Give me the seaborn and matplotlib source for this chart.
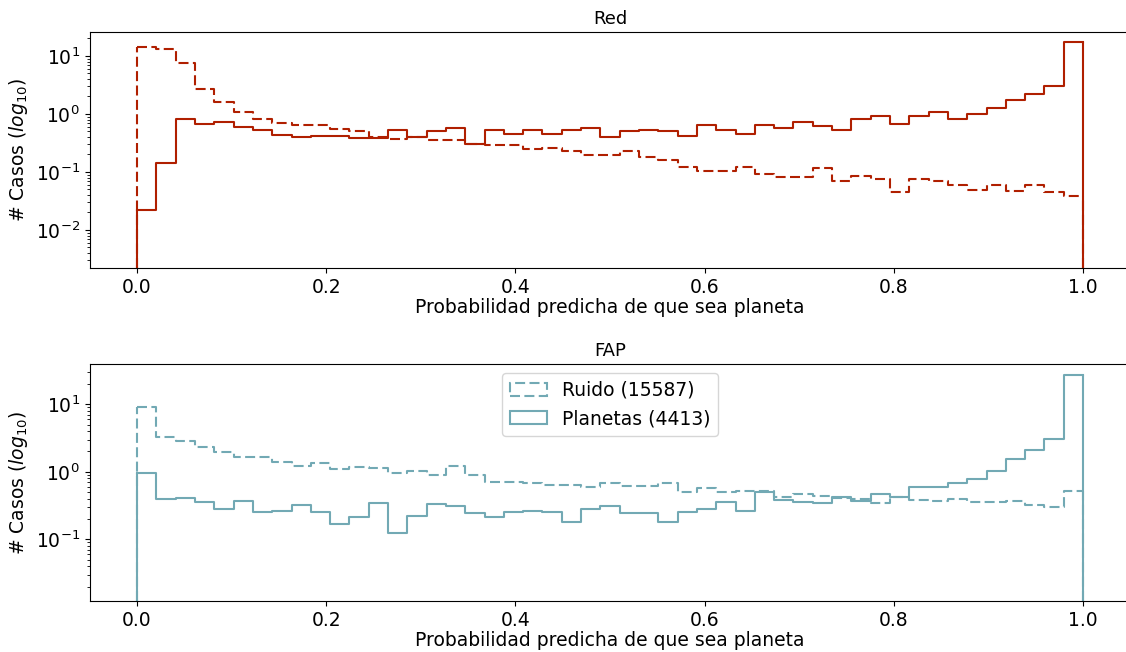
import numpy as np
import pandas as pd
import matplotlib
matplotlib.use("Agg")
import matplotlib.pyplot as plt
import seaborn as sns
from matplotlib.patches import Patch

# ---------------- data (density per bin, 49 bins on [0, 1]) ----------------
n_bins = 49
bin_range = (0.0, 1.0)

red_ruido = [14.2, 13.3, 7.6, 2.64, 1.6, 1.07, 0.83, 0.695, 0.65, 0.65,
             0.54, 0.50, 0.40, 0.373, 0.40, 0.36, 0.349, 0.306, 0.294, 0.294,
             0.251, 0.261, 0.229, 0.198, 0.198, 0.229, 0.18, 0.158, 0.124, 0.103,
             0.103, 0.121, 0.093, 0.081, 0.081, 0.116, 0.0686, 0.0847, 0.075, 0.0449,
             0.075, 0.0686, 0.0585, 0.0493, 0.0585, 0.0467, 0.0585, 0.0449, 0.0378]
red_planetas = [0.022, 0.142, 0.83, 0.66, 0.72, 0.59, 0.52, 0.44, 0.40, 0.415,
                0.415, 0.383, 0.383, 0.52, 0.40, 0.505, 0.578, 0.306, 0.526, 0.455,
                0.526, 0.455, 0.526, 0.578, 0.393, 0.506, 0.526, 0.50, 0.415, 0.633,
                0.526, 0.455, 0.633, 0.578, 0.722, 0.625, 0.52, 0.826, 0.906, 0.678,
                0.906, 1.06, 0.826, 1.0, 1.26, 1.75, 2.23, 3.01, 17.3]
fap_ruido = [9.0, 3.3, 2.85, 2.3, 1.98, 1.63, 1.63, 1.41, 1.23, 1.33,
             1.10, 1.19, 1.15, 0.967, 1.02, 0.893, 1.24, 0.893, 0.695, 0.695,
             0.672, 0.634, 0.634, 0.60, 0.672, 0.614, 0.614, 0.672, 0.495, 0.58,
             0.495, 0.518, 0.518, 0.426, 0.462, 0.436, 0.412, 0.39, 0.347, 0.426,
             0.381, 0.368, 0.39, 0.36, 0.36, 0.372, 0.321, 0.303, 0.518]
fap_planetas = [0.967, 0.39, 0.412, 0.36, 0.286, 0.372, 0.25, 0.262, 0.321, 0.256,
                0.168, 0.216, 0.347, 0.122, 0.223, 0.332, 0.312, 0.242, 0.216, 0.25,
                0.262, 0.25, 0.182, 0.286, 0.31, 0.242, 0.242, 0.182, 0.25, 0.277,
                0.36, 0.262, 0.506, 0.381, 0.36, 0.34, 0.417, 0.372, 0.467, 0.426,
                0.586, 0.586, 0.672, 0.77, 1.02, 1.54, 2.1, 3.05, 27.1]

titles = ["Red", "FAP"]
legend_labels = ["Ruido (15587)", "Planetas (4413)"]
xlabel = "Probabilidad predicha de que sea planeta"
ylabel = "# Casos ($log_{10}$)"

RED = "#B01F00"
TEAL = "#72A9B4"
DASH = (0, (4.8, 2.1))
LW = 1.5
FS = 13.5

fig = plt.figure(figsize=(11.26, 6.52), dpi=100)
ax_top = fig.add_axes([0.0797, 0.589, 0.9242, 0.362])
ax_bot = fig.add_axes([0.0797, 0.0782, 0.9242, 0.3635])

bin_edges = np.linspace(bin_range[0], bin_range[1], n_bins + 1)
centers = (bin_edges[:-1] + bin_edges[1:]) / 2


def draw(ax, vals, color, ls, ybottom):
    df = pd.DataFrame({"p": centers, "w": vals})
    sns.histplot(data=df, x="p", weights="w", bins=n_bins, binrange=bin_range,
                 stat="count", element="step", fill=False, color=color,
                 linestyle=ls, linewidth=LW, ax=ax)
    ax.vlines([bin_edges[0], bin_edges[-1]], ybottom, [vals[0], vals[-1]],
              colors=color, linestyles=[ls], linewidth=LW)


panels = [
    (ax_top, red_ruido, red_planetas, RED, (0.00221, 25.9)),
    (ax_bot, fap_ruido, fap_planetas, TEAL, (0.0122, 39.5)),
]

for (ax, ruido, plan, color, ylim), title in zip(panels, titles):
    ax.set_yscale("log")
    draw(ax, ruido, color, DASH, ylim[0])
    draw(ax, plan, color, "-", ylim[0])
    ax.set_xlim(-0.05, 1.05)
    ax.set_ylim(*ylim)
    ax.set_title(title, fontsize=FS - 0.5)
    ax.set_xlabel(xlabel, fontsize=FS, labelpad=1)
    ax.set_ylabel(ylabel, fontsize=FS)
    ax.tick_params(axis="both", which="major", labelsize=FS)

handles = [
    Patch(facecolor="none", edgecolor=TEAL, linestyle=DASH, linewidth=LW),
    Patch(facecolor="none", edgecolor=TEAL, linestyle="-", linewidth=LW),
]
ax_bot.legend(handles, legend_labels, loc="upper center", fontsize=13.5)

fig.savefig("out.png", dpi=100)
